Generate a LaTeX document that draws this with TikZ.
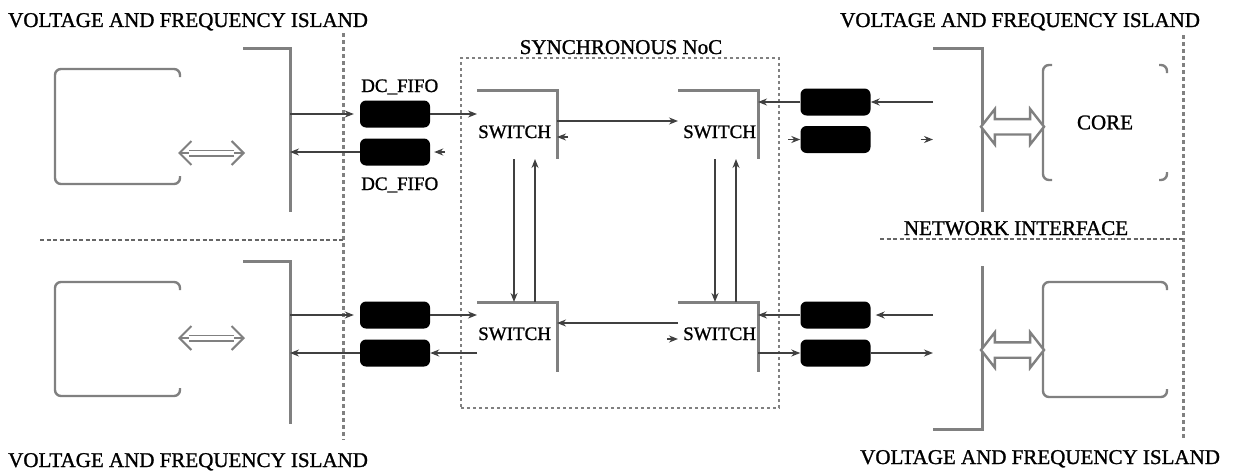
\documentclass[tikz,border=0pt]{standalone}
\usepackage{fontspec}
\setmainfont{Liberation Serif}[FakeBold=1.2]
\usepackage{tikz}
\usetikzlibrary{arrows.meta,positioning,calc,shapes.arrows}

\begin{document}
\begin{tikzpicture}[
  x=1pt, y=-1pt,
  >={Stealth[length=9pt, width=7pt]},
  font=\fontsize{21}{24}\selectfont,
  lbl/.style={inner sep=0pt},
  swlbl/.style={inner sep=0pt, font=\fontsize{19}{22}\selectfont},
  area/.style={inner sep=0pt, outer sep=0pt},
  frame/.style={draw=black!50, line width=3pt},
  corefrm/.style={draw=black!50, line width=2.4pt, rounded corners=6pt},
  link/.style={->, draw=black!75, line width=1.4pt},
  fifo/.style={fill=black, rounded corners=6pt, minimum width=70pt, minimum height=27pt, inner sep=0pt},
  island/.style={draw=black!50, line width=3pt, dash pattern=on 4pt off 3pt},
  border/.style={draw=black!60, line width=2pt, dash pattern=on 4pt off 2.5pt},
  chev/.style={draw=black!50, line width=2pt},
  bus/.style={double arrow, draw=black!50, line width=2.4pt, fill=white,
    minimum height=63pt, inner sep=0pt, inner ysep=6.5pt,
    double arrow head extend=10pt, double arrow tip angle=104}
]
\useasboundingbox (0,0) rectangle (1238,471);

% ==================== Ranh giới các đảo điện áp ====================
\draw[island] (343,33) -- (343,440);
\draw[island] (1183,35) -- (1183,440);
\draw[border] (40,240) -- (343,240);
\draw[border] (880,239) -- (1183,239);

\node (isltl) [lbl, anchor=base west] at (8,27) {VOLTAGE AND FREQUENCY ISLAND};
\node (isltr) [lbl, anchor=base west] at (840,27) {VOLTAGE AND FREQUENCY ISLAND};
\node (islbl) [lbl, anchor=base west] at (8,467) {VOLTAGE AND FREQUENCY ISLAND};
\node (islbr) [lbl, anchor=base west] at (860,464) {VOLTAGE AND FREQUENCY ISLAND};

% ==================== NoC đồng bộ ====================
\node (noc) [area, draw=black!50, line width=2.2pt, dash pattern=on 3pt off 3pt,
  minimum width=318pt, minimum height=350pt] at (620,233) {};
\node (noclbl) [lbl, anchor=base] at (621,54) {SYNCHRONOUS NoC};

\node (sw1) [area, minimum width=80pt, minimum height=69pt] at (517,124.5) {};
\node (sw2) [area, minimum width=80pt, minimum height=69pt] at (718,124.5) {};
\node (sw3) [area, minimum width=80pt, minimum height=70pt] at (517,337) {};
\node (sw4) [area, minimum width=80pt, minimum height=70pt] at (718,337) {};
\node (sw1lbl) [swlbl, anchor=base west] at (478,138) {SWITCH};
\node (sw2lbl) [swlbl, anchor=base west] at (683,138) {SWITCH};
\node (sw3lbl) [swlbl, anchor=base west] at (478,340) {SWITCH};
\node (sw4lbl) [swlbl, anchor=base west] at (683,340) {SWITCH};
\foreach \s in {sw1,sw2,sw3,sw4}
  \draw[frame] (\s.north west) -- (\s.north east) -- (\s.south east);

% ==================== Lõi và giao diện mạng ====================
\node (coretl) [area, minimum width=125pt, minimum height=115pt] at (117.5,126.5) {};
\node (corebl) [area, minimum width=125pt, minimum height=114pt] at (117.5,339) {};
\node (coretr) [area, minimum width=124pt, minimum height=115pt] at (1105,122.5) {CORE};
\node (corebr) [area, minimum width=124pt, minimum height=115pt] at (1105,339.5) {};
\foreach \c in {coretl,corebl,corebr}
  \draw[corefrm] ($(\c.north east)+(0,8)$) -- (\c.north east) -- (\c.north west)
    -- (\c.south west) -- (\c.south east) -- ($(\c.south east)+(0,-8)$);
\draw[corefrm] ($(coretr.north west)+(9,0)$) -- (coretr.north west)
  -- (coretr.south west) -- ($(coretr.south west)+(9,0)$);
\draw[corefrm] ($(coretr.north east)+(-8,0)$) -- (coretr.north east) -- ($(coretr.north east)+(0,8)$);
\draw[corefrm] ($(coretr.south east)+(-8,0)$) -- (coretr.south east) -- ($(coretr.south east)+(0,-8)$);

\node (nitl) [area, minimum width=47pt, minimum height=164pt] at (266.5,130) {};
\node (nitr) [area, minimum width=49pt, minimum height=164pt] at (957.5,130) {};
\node (nibl) [area, minimum width=47pt, minimum height=163pt] at (266.5,342.5) {};
\node (nibr) [area, minimum width=49pt, minimum height=163pt] at (957.5,347.5) {};
\node (nilbl) [lbl, anchor=base] at (1016,235) {NETWORK INTERFACE};
\foreach \n in {nitl,nitr,nibl}
  \draw[frame] (\n.north west) -- (\n.north east) -- (\n.south east);
\draw[frame] (nibr.north east) -- (nibr.south east) -- (nibr.south west);

% Bus lõi <-> NI
\coordinate (btl1) at ($(coretl.east)+(-2,26.5)$);
\coordinate (btl2) at ($(nitl.west)+(2,23)$);
\coordinate (bbl1) at ($(corebl.east)+(-2,-1)$);
\coordinate (bbl2) at ($(nibl.west)+(2,-4.5)$);
\foreach \a/\b in {btl1/btl2, bbl1/bbl2} {
  \draw[chev, {Straight Barb[length=12pt, width=24pt]}-, shorten >=56pt] (\a) -- (\b);
  \draw[chev, -{Straight Barb[length=12pt, width=24pt]}, shorten <=56pt] (\a) -- (\b);
  \draw[draw=black!50, line width=1.5pt, double distance=4pt, shorten <=11pt, shorten >=11pt] (\a) -- (\b);
}
\node (bustr) [bus] at ($(nitr.east)!0.5!(coretr.west)+(0,0.5)$) {};
\node (busbr) [bus] at ($(nibr.east)!0.5!(corebr.west)+(0,6.5)$) {};

% ==================== Các DC_FIFO ====================
\node (lfifo1) [fifo] at (395,114) {};
\node (lfifo2) [fifo] at (395,152) {};
\node (lfifo3) [fifo] at (395,315) {};
\node (lfifo4) [fifo] at (395,353) {};
\node (rfifo1) [fifo] at (835.5,102) {};
\node (rfifo2) [fifo] at (835.5,139.5) {};
\node (rfifo3) [fifo] at (835.5,315) {};
\node (rfifo4) [fifo] at (835.5,353) {};
\node (dcfifo1) [swlbl, anchor=base west] at (361,92) {DC\_FIFO};
\node (dcfifo2) [swlbl, anchor=base west] at (361,190) {DC\_FIFO};

% Liên kết NI <-> FIFO
\draw[link, shorten >=6pt] (nitl.east |- lfifo1) -- (lfifo1.west);
\draw[link] (lfifo2.west) -- (nitl.east |- lfifo2);
\draw[link, shorten >=6pt] (nibl.east |- lfifo3) -- (lfifo3.west);
\draw[link] (lfifo4.west) -- (nibl.east |- lfifo4);
\draw[link] (nitr.west |- rfifo1) -- (rfifo1.east);
\draw[link, shorten <=50pt] (rfifo2.east) -- (nitr.west |- rfifo2);
\draw[link, shorten >=5pt] (nibr.west |- rfifo3) -- (rfifo3.east);
\draw[link] (rfifo4.east) -- (nibr.west |- rfifo4);

% Liên kết FIFO <-> switch
\draw[link] (lfifo1.east) -- (sw1.west |- lfifo1);
\draw[link, shorten <=32pt, shorten >=4pt] (sw1.west |- lfifo2) -- (lfifo2.east);
\draw[link] (lfifo3.east) -- (sw3.west |- lfifo3);
\draw[link] (sw3.west |- lfifo4) -- (lfifo4.east);
\draw[link] (rfifo1.west) -- (sw2.east |- rfifo1);
\draw[link, shorten <=30pt] (sw2.east |- rfifo2) -- (rfifo2.west);
\draw[link] (rfifo3.west) -- (sw4.east |- rfifo3);
\draw[link] (sw4.east |- rfifo4) -- (rfifo4.west);

% Liên kết switch <-> switch
\draw[link] ($(sw1.north east)+(0,31)$) -- ($(sw2.north west)+(0,31)$);
\draw[link, shorten <=110pt] ($(sw2.north west)+(0,47)$) -- ($(sw1.north east)+(0,47)$);
\draw[link] ($(sw4.north west)+(0,21)$) -- ($(sw3.north east)+(0,21)$);
\draw[link, shorten <=110pt] ($(sw3.north east)+(0,37)$) -- ($(sw4.north west)+(0,37)$);
\draw[link] ($(sw1.south west)+(37,0)$) -- ($(sw3.north west)+(37,0)$);
\draw[link] ($(sw3.north west)+(58,0)$) -- ($(sw1.south west)+(58,0)$);
\draw[link] ($(sw2.south west)+(37,0)$) -- ($(sw4.north west)+(37,0)$);
\draw[link] ($(sw4.north west)+(58,0)$) -- ($(sw2.south west)+(58,0)$);

\end{tikzpicture}
\end{document}
